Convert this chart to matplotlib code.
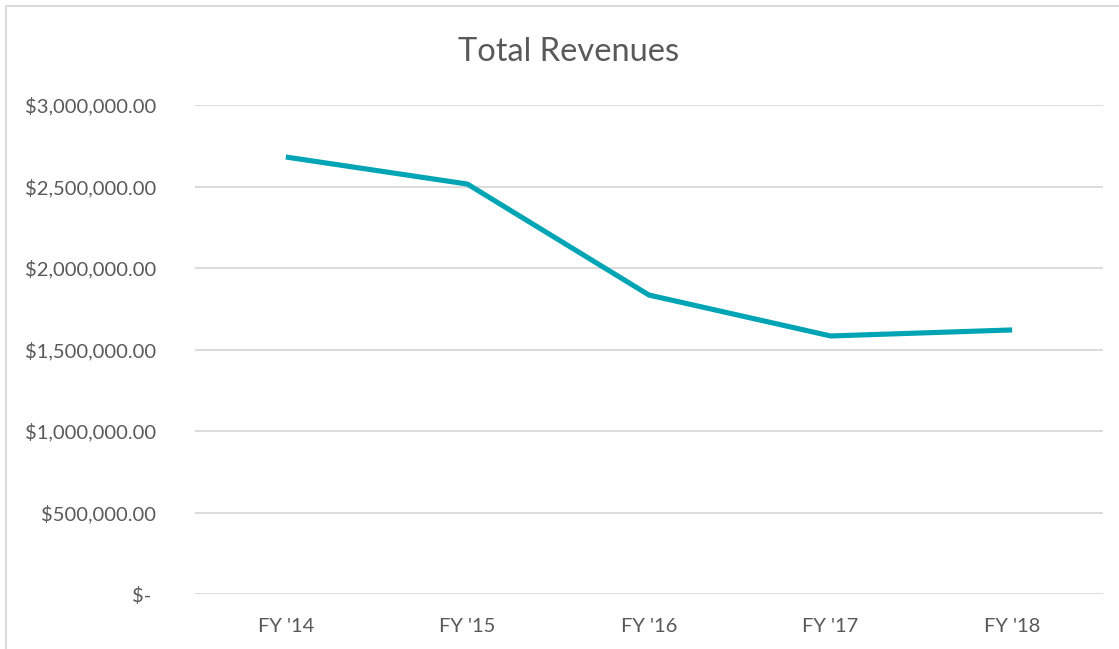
import matplotlib.pyplot as plt
from matplotlib.patches import Rectangle
from matplotlib.ticker import FuncFormatter

years = ["FY '14", "FY '15", "FY '16", "FY '17", "FY '18"]
revenues = [2681000, 2515000, 1834000, 1583000, 1620000]
y_ticks = [0, 500000, 1000000, 1500000, 2000000, 2500000, 3000000]

plt.rcParams['font.family'] = ['Lato', 'DejaVu Sans']
grey = '#595959'

fig = plt.figure(figsize=(11.19, 6.49), dpi=100, facecolor='white')
ax = fig.add_axes([195 / 1119, 55 / 649, 908 / 1119, 489 / 649])

ax.plot(range(len(years)), revenues, color='#00A5B5', lw=3.7,
        solid_capstyle='butt', solid_joinstyle='round', zorder=3)

ax.set_xlim(-0.5, len(years) - 0.5)
ax.set_ylim(0, 3000000)
ax.set_yticks(y_ticks)
ax.set_xticks(range(len(years)))
ax.set_xticklabels(years)


def money(v, pos):
    if v == 0:
        return '$- '
    return '${:,.2f}'.format(v)


ax.yaxis.set_major_formatter(FuncFormatter(money))
ax.tick_params(axis='both', length=0, labelsize=14.5, colors=grey)
ax.tick_params(axis='y', pad=28)
ax.tick_params(axis='x', pad=17)
ax.grid(axis='y', color='#d9d9d9', lw=1.3)
ax.set_axisbelow(True)
for s in ax.spines.values():
    s.set_visible(False)

fig.text(569 / 1119, 1 - 52 / 649, 'Total Revenues', ha='center', va='center',
         fontsize=23.5, color=grey)

# chart border
fig.patches.append(Rectangle((5.5 / 1119, -0.1), 1.2, 1 - 6.5 / 649 + 0.1,
                             transform=fig.transFigure, fill=False,
                             edgecolor='#d9d9d9', lw=1.3))

fig.savefig('out.png', dpi=100, facecolor='white')
